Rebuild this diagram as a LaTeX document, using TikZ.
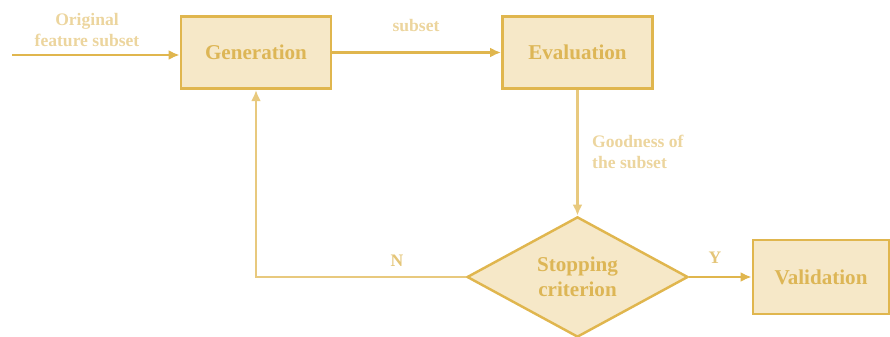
\documentclass[tikz,border=0pt]{standalone}
\usepackage{fontspec}
\setmainfont{Liberation Serif}
\usepackage{xcolor}
\usetikzlibrary{arrows.meta,shapes,calc,positioning}
\definecolor{goldline}{HTML}{E0B64E}
\definecolor{goldfill}{HTML}{F6E8C8}
\definecolor{goldtext}{HTML}{DDB656}
\definecolor{goldlabel}{HTML}{ECD59E}
\definecolor{goldthin}{HTML}{E8C97E}
\begin{document}
\begin{tikzpicture}
			\tikzstyle{every node}=[font=\bfseries]
			\tikzstyle{stagebox}=[draw=goldline, fill=goldfill, line width=1.6pt, text=goldtext, font=\fontsize{12}{14}\selectfont\bfseries, minimum width=3cm, minimum height=1.45cm]
			\tikzstyle{flowlabel}=[text=goldlabel, font=\fontsize{10}{11.5}\selectfont\bfseries, align=center]
			\tikzstyle{flowarrow}=[draw=goldline, line width=1.4pt, -{Latex[length=2.2mm,width=2mm]}]
			\useasboundingbox (0,0) rectangle (17.8,6.72);
			\node [stagebox] (gen) at (5.12,5.67) {Generation};
			\node [stagebox] (eval) at (11.55,5.67) {Evaluation};
			\node [stagebox, diamond, minimum width=4.42cm, minimum height=2.3cm, inner sep=0pt, align=center, line width=1.4pt] (crit) at (11.55,1.18) {Stopping\\criterion};
			\node [stagebox, minimum width=2.72cm, minimum height=1.48cm] (valid) at (16.42,1.18) {Validation};
			\coordinate (input) at (0.24,5.62);
			\draw [flowarrow] (input) -- (input -| gen.west);
			\draw [flowarrow] (gen.east) -- (eval.west);
			\draw [flowarrow, draw=goldthin, line width=1.5pt] (eval.south) -- (crit.north);
			\draw [flowarrow] (crit.east) -- (valid.west);
			\draw [flowarrow, draw=goldthin, line width=1.2pt] (crit.west) -| (gen.south);
			\node [flowlabel] (inlabel) at (1.74,6.12) {Original\\feature subset};
			\node [flowlabel] (sublabel) at (8.32,6.2) {subset};
			\node [flowlabel, anchor=west, align=left] (goodlabel) at (11.72,3.68) {Goodness of\\the subset};
			\node [flowlabel, text=goldtext!80] (nlabel) at (7.94,1.5) {N};
			\node [flowlabel, text=goldtext!80] (ylabel) at (14.3,1.56) {Y};
		\end{tikzpicture}
\end{document}
